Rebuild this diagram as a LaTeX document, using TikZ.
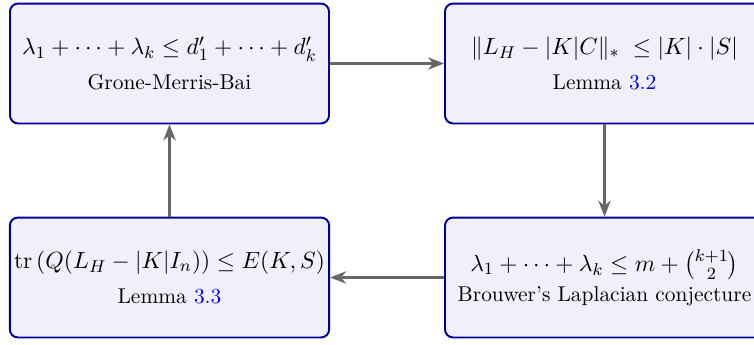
\documentclass[tikz,border=0pt]{standalone}
\usepackage{amsmath}
\usetikzlibrary{arrows.meta}
\definecolor{boxborder}{rgb}{0,0,0.6}
\definecolor{boxfill}{rgb}{0.94,0.94,0.99}
\definecolor{arrgray}{rgb}{0.4,0.4,0.4}
\newcommand{\mathsz}{\fontsize{10.95}{13.6}\selectfont}
\begin{document}
\begin{tikzpicture}[x=0.467pt,y=-0.467pt,
  resbox/.style={draw=boxborder,fill=boxfill,line width=0.9pt,rounded corners=3.8pt,
    minimum width=149pt,minimum height=56pt,align=center,inner sep=2pt},
  arr/.style={draw=arrgray,line width=1pt,-{Stealth[length=7.5pt,width=5.8pt]}}]
\clip (0,0) rectangle (754,344);
\node[resbox] (tl) at (169.5,63.5) {{\mathsz$\lambda_1+\cdots+\lambda_k\le d'_1+\cdots+d'_k$}\\[4.5pt] Grone-Merris-Bai};
\node[resbox] (tr) at (604.5,63.5) {{\mathsz$\|L_H-|K|C\|_*\;\le|K|\cdot|S|$}\\[4.5pt] Lemma \textcolor{blue}{3.2}};
\node[resbox] (bl) at (169.5,277.5) {{\mathsz$\operatorname{tr}\left(Q(L_H-|K|I_n)\right)\le E(K,S)$}\\[4.5pt] Lemma \textcolor{blue}{3.3}};
\node[resbox] (br) at (604.5,277.5) {{\mathsz$\lambda_1+\cdots+\lambda_k\le m+\binom{k+1}{2}$}\\[2pt] Brouwer's Laplacian conjecture};
\draw[arr] (tl) -- (tr);
\draw[arr] (tr) -- (br);
\draw[arr] (br) -- (bl);
\draw[arr] (bl) -- (tl);
\end{tikzpicture}
\end{document}
